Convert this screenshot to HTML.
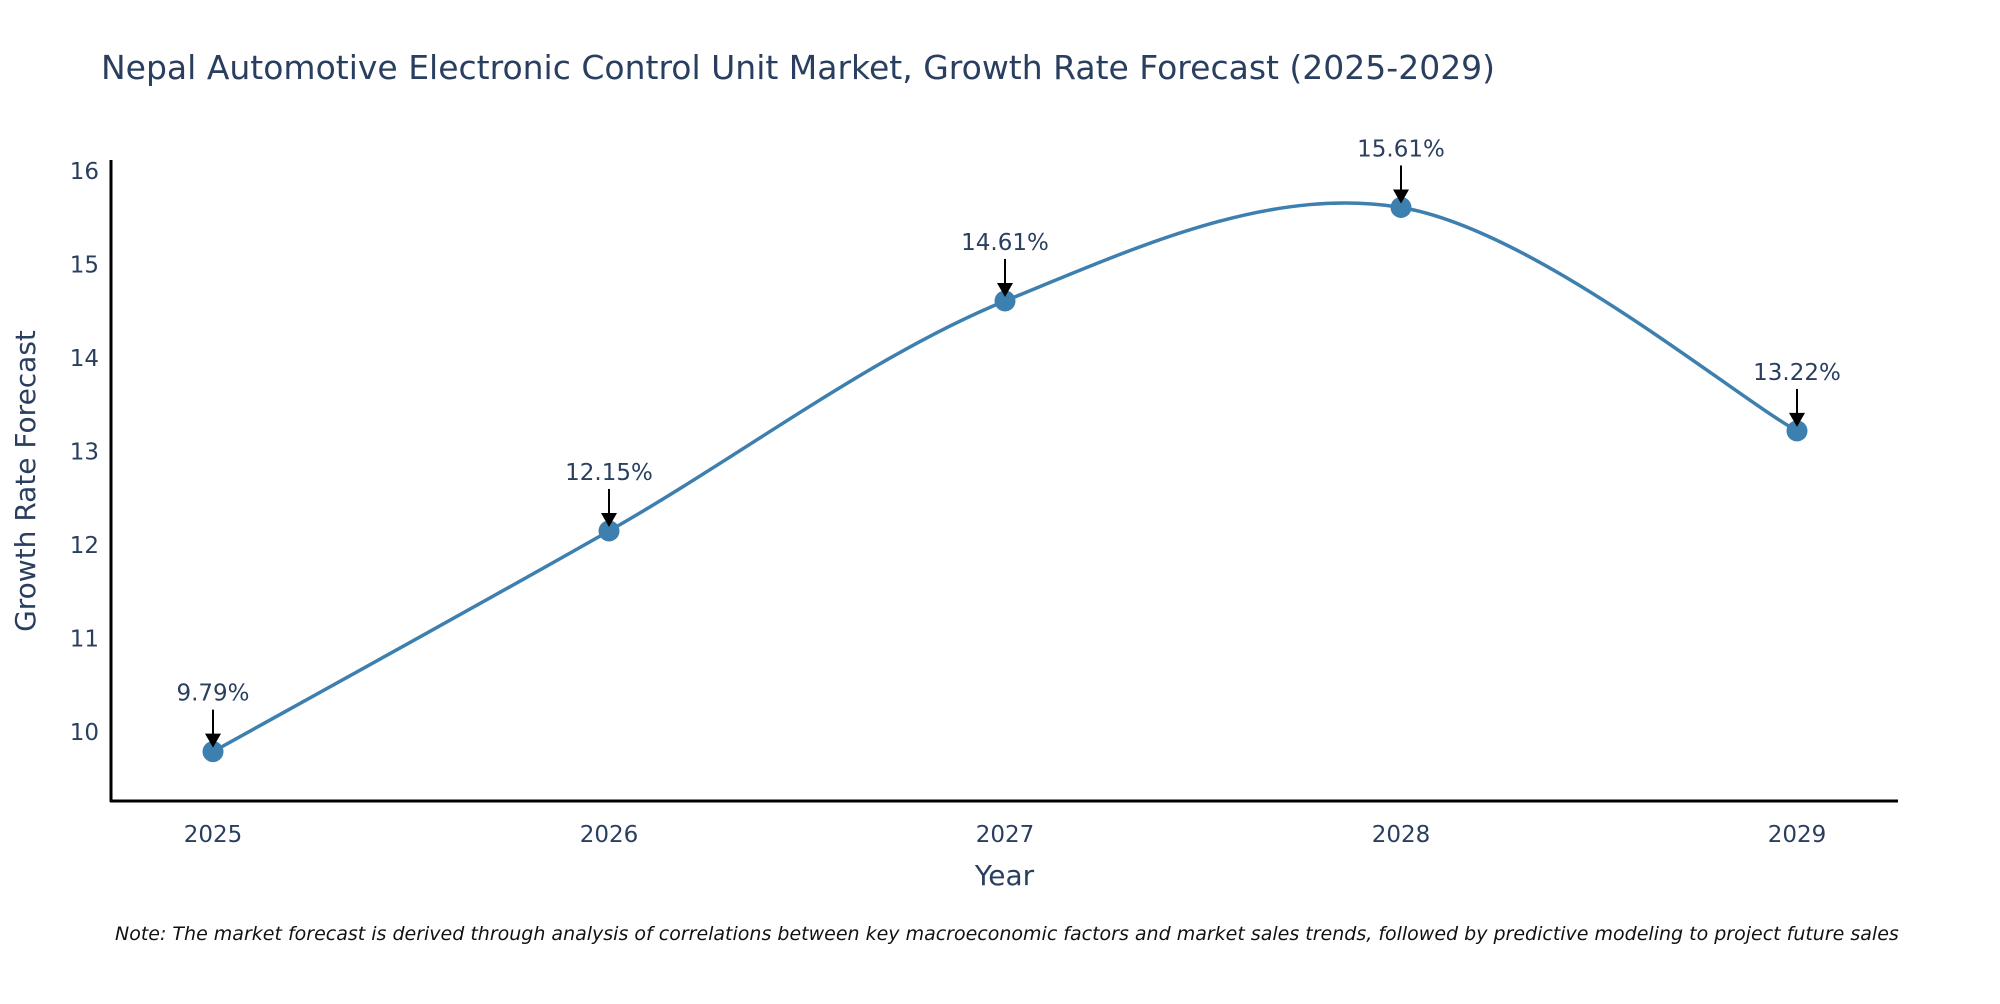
<!DOCTYPE html>
<html><head><meta charset="utf-8"><style>
body{margin:0;background:#fff;font-family:"DejaVu Sans",sans-serif}
svg text{font-family:"DejaVu Sans","Liberation Sans",sans-serif}
</style></head><body>
<svg id="chart" width="2000" height="1000" xmlns="http://www.w3.org/2000/svg">
<rect width="2000" height="1000" fill="#fff"/>
<text x="101" y="79" font-size="33" fill="#2a3f5f">Nepal Automotive Electronic Control Unit Market, Growth Rate Forecast (2025-2029)</text>
<g id="axes"></g>
<g id="series"></g>
<text x="115" y="940" font-size="19" font-style="italic" fill="#111">Note: The market forecast is derived through analysis of correlations between key macroeconomic factors and market sales trends, followed by predictive modeling to project future sales</text>
</svg>
<script>
const years = [2025, 2026, 2027, 2028, 2029];
const values = [9.79, 12.15, 14.61, 15.61, 13.22];
const labels = ["9.79%", "12.15%", "14.61%", "15.61%", "13.22%"];
const yTicks = [10, 11, 12, 13, 14, 15, 16];

const NS = "http://www.w3.org/2000/svg";
const L = 111, R = 1898, B = 801, T = 160;
function x(v){ return 213 + (v - 2025) * 396; }
function y(v){ return 732 - (v - 10) * 93.5; }
function mk(tag, attrs, parent){ const e = document.createElementNS(NS, tag); for (const k in attrs) e.setAttribute(k, attrs[k]); parent.appendChild(e); return e; }
const axes = document.getElementById('axes'), ser = document.getElementById('series');

let yl = mk('line', {x1:L, y1:T, x2:L, y2:B+1, stroke:'#000', 'stroke-width':3}, axes);


let xl = mk('line', {x1:L-1, y1:B, x2:R, y2:B, stroke:'#000', 'stroke-width':3}, axes);



yTicks.forEach(t => {
  const e = mk('text', {x:L-12, y:y(t)+8, 'font-size':23, fill:'#2a3f5f', 'text-anchor':'end'}, axes);
  e.textContent = t;
  
  
});
years.forEach(t => {
  const e = mk('text', {x:x(t), y:B+41, 'font-size':23, fill:'#2a3f5f', 'text-anchor':'middle'}, axes);
  e.textContent = t;
  
  
});
let xt = mk('text', {x:(L+R)/2, y:885, 'font-size':28, fill:'#2a3f5f', 'text-anchor':'middle'}, axes);
xt.textContent = 'Year';


let yt = mk('text', {x:0, y:0, 'font-size':28, fill:'#2a3f5f', 'text-anchor':'middle', transform:'translate(35,481) rotate(-90)'}, axes);
yt.textContent = 'Growth Rate Forecast';



const pts = years.map((yr, i) => [x(yr), y(values[i])]);
let d = 'M' + pts[0][0] + ',' + pts[0][1];
const tn = 0.5;
for (let i = 0; i < pts.length - 1; i++) {
  const p0 = pts[Math.max(0, i-1)], p1 = pts[i], p2 = pts[i+1], p3 = pts[Math.min(pts.length-1, i+2)];
  const c1 = [p1[0] + (p2[0]-p0[0])*tn/3, p1[1] + (p2[1]-p0[1])*tn/3];
  const c2 = [p2[0] - (p3[0]-p1[0])*tn/3, p2[1] - (p3[1]-p1[1])*tn/3];
  d += ' C' + c1 + ' ' + c2 + ' ' + p2;
}
let line = mk('path', {d:d, fill:'none', stroke:'#3d7fae', 'stroke-width':3.5}, ser);



pts.forEach((p, i) => {
  const c = mk('circle', {cx:p[0], cy:p[1], r:10.5, fill:'#3d7fae'}, ser);
  
  
  const a = mk('line', {x1:p[0], y1:p[1]-42, x2:p[0], y2:p[1]-16, stroke:'#000', 'stroke-width':2}, ser);
  
  
  const h = mk('path', {d:`M${p[0]-8},${p[1]-18} L${p[0]+8},${p[1]-18} L${p[0]},${p[1]-4} Z`, fill:'#000'}, ser);
  
  
  const t = mk('text', {x:p[0], y:p[1]-51, 'font-size':23, fill:'#2a3f5f', 'text-anchor':'middle'}, ser);
  t.textContent = labels[i];
  
  
});
</script>
</body></html>
